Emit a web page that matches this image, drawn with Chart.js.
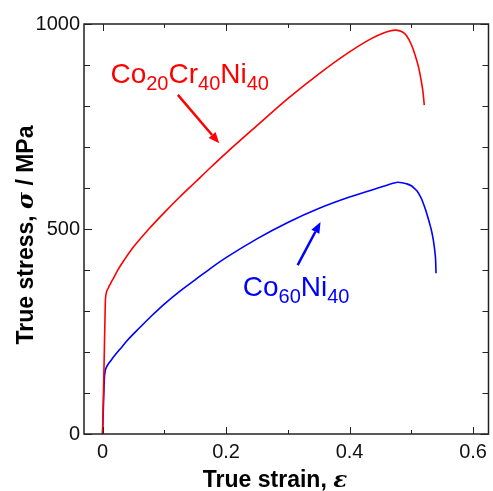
<!DOCTYPE html>
<html lang="en">
<head>
<meta charset="UTF-8">
<title>True stress - true strain</title>
<script src="https://cdn.jsdelivr.net/npm/chart.js"></script>
<style>
    body { margin: 0; background: #fff; }
    #wrap { width: 493px; height: 491px; position: relative; }
</style>
</head>
<body>
<div id="wrap"><canvas id="stressChart"></canvas></div>
<script>
// curves (true strain, true stress in MPa)
const crStrain = [0, 0.0025, 0.0045, 0.006, 0.009, 0.013, 0.018, 0.024, 0.035, 0.05, 0.075, 0.1, 0.125, 0.15, 0.175, 0.2, 0.25, 0.3, 0.35, 0.4, 0.43, 0.45, 0.465, 0.475, 0.485, 0.492, 0.5, 0.506, 0.512, 0.516, 0.519, 0.521];
const crStress = [0, 170, 320, 343, 355, 367, 381, 398, 424, 456, 500, 540, 578, 614, 650, 685, 752, 818, 878, 932, 960, 975, 983, 985, 981, 972, 950, 925, 893, 862, 833, 802];
const coStrain = [0, 0.0015, 0.003, 0.0045, 0.006, 0.009, 0.013, 0.02, 0.03, 0.04, 0.06, 0.08, 0.1, 0.125, 0.15, 0.175, 0.2, 0.25, 0.3, 0.35, 0.4, 0.44, 0.455, 0.465, 0.472, 0.478, 0.485, 0.492, 0.5, 0.505, 0.509, 0.513, 0.517, 0.521, 0.525, 0.529, 0.533, 0.536, 0.538, 0.5395, 0.54];
const coStress = [0, 70, 135, 155, 162, 170, 178, 192, 210, 228, 259, 289, 317, 348, 376, 404, 430, 476, 516, 550, 578, 597, 604, 609, 612, 614, 613, 610.5, 605.5, 599, 593, 584, 572, 556, 538, 517, 494, 470, 447, 420, 392];

const xTicks = [0, 0.2, 0.4, 0.6];
const xTickLabels = ['0', '0.2', '0.4', '0.6'];
const xMinor = [0.1, 0.3, 0.5];
const yTicks = [0, 500, 1000];
const yTickLabels = ['0', '500', '1000'];
const yMinor = [100, 200, 300, 400, 600, 700, 800, 900];

const FONT = "Arial, 'Liberation Sans', sans-serif";
const GREEK = "'DejaVu Serif', serif";

function toPoints(xs, ys) {
    return xs.map((x, i) => ({ x: x, y: ys[i] }));
}

// draws a chemical formula like Co20Cr40Ni40 with subscripts
function drawFormula(ctx, x, y, parts, color) {
    ctx.fillStyle = color;
    ctx.textBaseline = 'alphabetic';
    ctx.textAlign = 'left';
    parts.forEach(p => {
        if (p[1]) {
            ctx.font = '20px ' + FONT;
            ctx.fillText(p[0], x, y + 7);
        } else {
            ctx.font = '28px ' + FONT;
            ctx.fillText(p[0], x, y);
        }
        x += ctx.measureText(p[0]).width;
    });
}

function drawArrow(ctx, x1, y1, x2, y2, color) {
    const ang = Math.atan2(y2 - y1, x2 - x1);
    const len = 11, half = 4.5;
    const bx = x2 - len * Math.cos(ang), by = y2 - len * Math.sin(ang);
    ctx.strokeStyle = color;
    ctx.fillStyle = color;
    ctx.lineWidth = 2.5;
    ctx.beginPath();
    ctx.moveTo(x1, y1);
    ctx.lineTo(bx, by);
    ctx.stroke();
    ctx.beginPath();
    ctx.moveTo(x2, y2);
    ctx.lineTo(bx + half * Math.sin(ang), by - half * Math.cos(ang));
    ctx.lineTo(bx - half * Math.sin(ang), by + half * Math.cos(ang));
    ctx.closePath();
    ctx.fill();
}

// mixed bold / italic-greek text, centred on (0, 0) of the current transform
function drawTitle(ctx, pieces) {
    const widths = pieces.map(p => {
        ctx.font = p[1] ? 'italic bold 23px ' + GREEK : 'bold 23px ' + FONT;
        return ctx.measureText(p[0]).width;
    });
    let x = -widths.reduce((s, w) => s + w, 0) / 2;
    pieces.forEach((p, i) => {
        ctx.font = p[1] ? 'italic bold 23px ' + GREEK : 'bold 23px ' + FONT;
        ctx.fillText(p[0], x, 0);
        x += widths[i];
    });
}

const frame = {
    id: 'frame',
    afterDraw(chart) {
        const ctx = chart.ctx;
        const a = chart.chartArea;
        const xs = chart.scales.x, ys = chart.scales.y;
        ctx.save();

        // box
        ctx.strokeStyle = '#222';
        ctx.lineWidth = 1.5;
        ctx.strokeRect(a.left, a.top, a.right - a.left, a.bottom - a.top);

        // inward ticks on all four sides
        ctx.lineWidth = 1;
        ctx.beginPath();
        const xt = (v, l) => {
            const px = Math.round(xs.getPixelForValue(v)) + 0.5;
            ctx.moveTo(px, a.bottom); ctx.lineTo(px, a.bottom - l);
            ctx.moveTo(px, a.top); ctx.lineTo(px, a.top + l);
        };
        const yt = (v, l) => {
            const py = Math.round(ys.getPixelForValue(v)) + 0.5;
            ctx.moveTo(a.left, py); ctx.lineTo(a.left + l, py);
            ctx.moveTo(a.right, py); ctx.lineTo(a.right - l, py);
        };
        xTicks.forEach(v => xt(v, 7));
        xMinor.forEach(v => xt(v, 4));
        yTicks.forEach(v => yt(v, 8));
        yMinor.forEach(v => yt(v, 6));
        ctx.stroke();

        // axis titles
        ctx.fillStyle = '#000';
        ctx.textBaseline = 'alphabetic';
        ctx.textAlign = 'left';
        ctx.translate(275, 487);
        drawTitle(ctx, [['True strain, ', 0], ['ε', 1]]);
        ctx.setTransform(1, 0, 0, 1, 0, 0);
        ctx.translate(33, 235);
        ctx.rotate(-Math.PI / 2);
        drawTitle(ctx, [['True stress, ', 0], ['σ', 1], [' / MPa', 0]]);
        ctx.setTransform(1, 0, 0, 1, 0, 0);

        // labels and arrows, anchored in data coordinates
        const P = (sx, sy) => [xs.getPixelForValue(sx), ys.getPixelForValue(sy)];
        let q = P(0.0128, 856);
        drawFormula(ctx, q[0], q[1], [['Co', 0], ['20', 1], ['Cr', 0], ['40', 1], ['Ni', 0], ['40', 1]], '#ff0000');
        let r1 = P(0.122, 827), r2 = P(0.189, 709);
        drawArrow(ctx, r1[0], r1[1], r2[0], r2[1], '#ff0000');
        q = P(0.227, 337);
        drawFormula(ctx, q[0], q[1], [['Co', 0], ['60', 1], ['Ni', 0], ['40', 1]], '#0000ff');
        r1 = P(0.316, 412); r2 = P(0.353, 517);
        drawArrow(ctx, r1[0], r1[1], r2[0], r2[1], '#0000ff');

        ctx.restore();
    }
};

const ctx = document.getElementById('stressChart').getContext('2d');
new Chart(ctx, {
    type: 'scatter',
    data: {
        datasets: [
            {
                label: 'Co20Cr40Ni40',
                data: toPoints(crStrain, crStress),
                showLine: true,
                borderColor: '#ff0000',
                borderWidth: 1.6,
                pointRadius: 0,
                cubicInterpolationMode: 'monotone'
            },
            {
                label: 'Co60Ni40',
                data: toPoints(coStrain, coStress),
                showLine: true,
                borderColor: '#0000ff',
                borderWidth: 1.6,
                pointRadius: 0,
                cubicInterpolationMode: 'monotone'
            }
        ]
    },
    options: {
        responsive: true,
        maintainAspectRatio: false,
        animation: false,
        layout: { padding: { top: 24, right: 1, left: 0, bottom: 0 } },
        plugins: { legend: { display: false }, tooltip: { enabled: false } },
        scales: {
            x: {
                type: 'linear',
                min: -0.03,
                max: 0.625,
                grid: { display: false, drawTicks: false },
                border: { display: false },
                afterBuildTicks: s => { s.ticks = xTicks.map(v => ({ value: v })); },
                afterFit: s => { s.height = 57; },
                ticks: {
                    padding: 6,
                    color: '#111',
                    font: { family: FONT, size: 20 },
                    maxRotation: 0,
                    callback: (v, i) => xTickLabels[i]
                }
            },
            y: {
                type: 'linear',
                min: 0,
                max: 1000,
                grid: { display: false, drawTicks: false },
                border: { display: false },
                afterBuildTicks: s => { s.ticks = yTicks.map(v => ({ value: v })); },
                afterFit: s => { s.width = 84; },
                ticks: {
                    padding: 4,
                    color: '#111',
                    font: { family: FONT, size: 20 },
                    callback: (v, i) => yTickLabels[i]
                }
            }
        }
    },
    plugins: [frame]
});
</script>
</body>
</html>
